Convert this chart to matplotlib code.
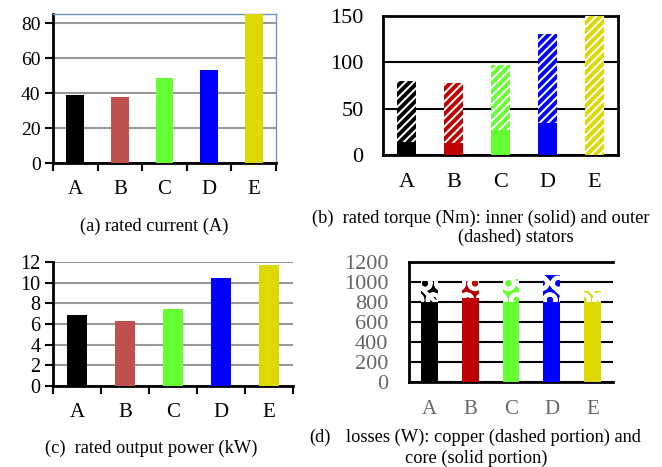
import matplotlib
matplotlib.use("Agg")
import matplotlib.pyplot as plt
import numpy as np

plt.rcParams['font.family'] = ['Liberation Serif', 'DejaVu Serif']
plt.rcParams['hatch.linewidth'] = 2.8

categories = ["A", "B", "C", "D", "E"]
colors_a = ["#000000", "#c0504d", "#66ff33", "#0000ff", "#dcd800"]
colors_b = ["#000000", "#c00000", "#66ff33", "#0000ff", "#dcd800"]

rated_current = [39, 38, 48.7, 53.3, 90]
torque_inner = [14.5, 12.5, 27, 34, 0]
torque_outer = [65.5, 64.8, 70, 96.5, 150]
output_power = [6.85, 6.3, 7.42, 10.42, 11.68]
loss_core = [805, 845, 805, 805, 805]
loss_copper = [210, 168, 228, 262, 110]

W, H = 662, 467
fig = plt.figure(figsize=(W / 100, H / 100), dpi=100)

def ax_at(l, t, r, b):
    return fig.add_axes([l / W, 1 - b / H, (r - l) / W, (b - t) / H])

x = np.arange(len(categories))
CAP = 13.2

# ---------- (a) ----------
ax = ax_at(53, 14, 276, 163)
ax.bar(x, rated_current, width=0.4, color=colors_a, zorder=3)
ax.set_ylim(0, 85.3)
ax.set_xlim(-0.5, 4.5)
ax.set_yticks([0, 20, 40, 60, 80])
ax.yaxis.grid(True, color="#999999", lw=1.5, zorder=0)
ax.set_xticks(np.arange(-0.5, 5, 1))
ax.set_xticks(x, minor=True)
ax.set_xticklabels([])
ax.set_xticklabels(categories, minor=True)
ax.tick_params(axis='x', which='major', length=6, width=1.5, direction='out')
ax.tick_params(axis='x', which='minor', length=0, pad=12, labelsize=15)
ax.tick_params(axis='y', length=6, width=1.5, labelsize=14, pad=3)
for s in ["left", "bottom"]:
    ax.spines[s].set_linewidth(2)
for s in ["top", "right"]:
    ax.spines[s].set_color("#6a96cf")
    ax.spines[s].set_linewidth(1)
fig.text(154 / W, 1 - 226 / H, "(a) rated current (A)", ha="center", va="center", fontsize=CAP)

# ---------- (b) ----------
ax = ax_at(383, 16, 618, 155)
ax.bar(x, torque_inner, width=0.4, color=colors_b, zorder=3)
for i in range(len(categories)):
    ax.bar(x[i], torque_outer[i], width=0.4, bottom=torque_inner[i], facecolor="white",
           edgecolor=colors_b[i], hatch="////", linewidth=0, zorder=3)
ax.set_ylim(0, 150)
ax.set_xlim(-0.5, 4.5)
ax.set_yticks([0, 50, 100, 150])
ax.yaxis.grid(True, color="black", lw=1.5, zorder=0)
ax.set_xticks(x)
ax.set_xticklabels(categories)
ax.tick_params(axis='x', length=0, pad=13, labelsize=16)
ax.tick_params(axis='y', length=0, labelsize=16, pad=14)
for s in ax.spines.values():
    s.set_linewidth(2)
fig.text(481 / W, 1 - 218 / H, "(b)  rated torque (Nm): inner (solid) and outer", ha="center", va="center", fontsize=CAP)
fig.text(516 / W, 1 - 237 / H, "(dashed) stators", ha="center", va="center", fontsize=CAP)

# ---------- (c) ----------
ax = ax_at(53, 262, 293, 386)
ax.bar(x, output_power, width=0.42, color=colors_a, zorder=3)
ax.set_ylim(0, 12)
ax.set_xlim(-0.5, 4.5)
ax.set_yticks(np.arange(0, 13, 2))
ax.yaxis.grid(True, color="#999999", lw=1.5, zorder=0)
ax.set_xticks(np.arange(-0.5, 5, 1))
ax.set_xticks(x, minor=True)
ax.set_xticklabels([])
ax.set_xticklabels(categories, minor=True)
ax.tick_params(axis='x', which='major', length=6, width=1.5, direction='out')
ax.tick_params(axis='x', which='minor', length=0, pad=12, labelsize=15)
ax.tick_params(axis='y', length=6, width=1.5, labelsize=14.5, pad=3)
for s in ["left", "bottom"]:
    ax.spines[s].set_linewidth(2)
for s in ["top", "right"]:
    ax.spines[s].set_visible(False)
fig.text(151 / W, 1 - 448 / H, "(c)  rated output power (kW)", ha="center", va="center", fontsize=CAP)

# ---------- (d) ----------
ax = ax_at(409, 262, 613, 382)
ax.bar(x, loss_core, width=0.41, color=colors_b, zorder=3)
for i in range(len(categories)):
    ax.bar(x[i], loss_copper[i], width=0.41, bottom=loss_core[i], facecolor=colors_b[i],
           edgecolor="white", hatch="\\O", linewidth=0, zorder=3)
ax.set_ylim(0, 1200)
ax.set_xlim(-0.5, 4.5)
ax.set_yticks(np.arange(0, 1201, 200))
ax.yaxis.grid(True, color="black", lw=1.5, zorder=0)
ax.set_xticks(x)
ax.set_xticklabels(categories)
ax.tick_params(axis='x', length=0, pad=13, labelsize=15, labelcolor="#666666")
ax.tick_params(axis='y', length=0, labelsize=16, pad=15, labelcolor="#666666")
for s in ["left", "top", "bottom"]:
    ax.spines[s].set_linewidth(2)
ax.spines["right"].set_visible(False)
fig.text(320 / W, 1 - 437 / H, "(d)", ha="center", va="center", fontsize=CAP)
fig.text(493 / W, 1 - 437 / H, "losses (W): copper (dashed portion) and", ha="center", va="center", fontsize=CAP)
fig.text(476 / W, 1 - 458 / H, "core (solid portion)", ha="center", va="center", fontsize=CAP)

fig.savefig("out.png", dpi=100)
